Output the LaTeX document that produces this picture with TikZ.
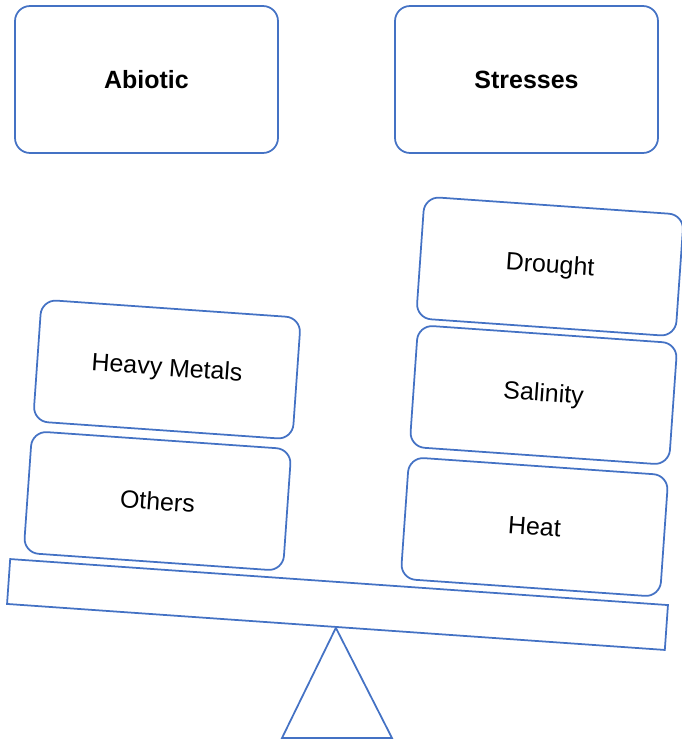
\documentclass[tikz,border=0pt]{standalone}
\usepackage{fontspec}
\setmainfont{Liberation Sans}
\definecolor{officeblue}{HTML}{4472C4}

\tikzset{
	stressbox/.style={draw=officeblue, line width=1pt, rounded corners=0.3cm, inner sep=0pt,
		minimum width=5.2cm, minimum height=2.44cm, rotate=-4,
		font=\fontsize{14.2}{17}\selectfont},
	titlebox/.style={draw=officeblue, line width=1pt, rounded corners=0.3cm, inner sep=0pt,
		minimum width=5.26cm, minimum height=2.94cm,
		font=\fontsize{14.2}{17}\selectfont\bfseries},
}

\begin{document}
\begin{tikzpicture}[x=0.02cm, y=-0.02cm]
			%%%%% START %%%%%
			\useasboundingbox (0, 0) rectangle (682, 741);
			
			% heading
			\node[titlebox] (abiotic) at (146.5, 79.5) {Abiotic};
			\node[titlebox] (stresses) at (526.5, 79.5) {Stresses};
			
			% left pan
			\node[stressbox] (metals) at (167, 369.5) {Heavy Metals};
			\node[stressbox] (others) at (157.5, 501) {Others};
			
			% right pan
			\node[stressbox] (drought) at (550, 266.5) {Drought};
			\node[stressbox] (salinity) at (543.5, 395) {Salinity};
			\node[stressbox] (heat) at (534.5, 527) {Heat};
			
			% beam and pivot
			\node[draw=officeblue, line width=1pt, inner sep=0pt, rotate=-4,
				minimum width=13.19cm, minimum height=0.9cm] (beam) at (337.5, 604.5) {};
			\coordinate (footl) at (282, 738);
			\coordinate (footr) at (392, 738);
			\draw[officeblue, line width=1pt] (beam.south) -- (footr) -- (footl) -- cycle;
			
			%%%%% END %%%%%
\end{tikzpicture}
\end{document}
